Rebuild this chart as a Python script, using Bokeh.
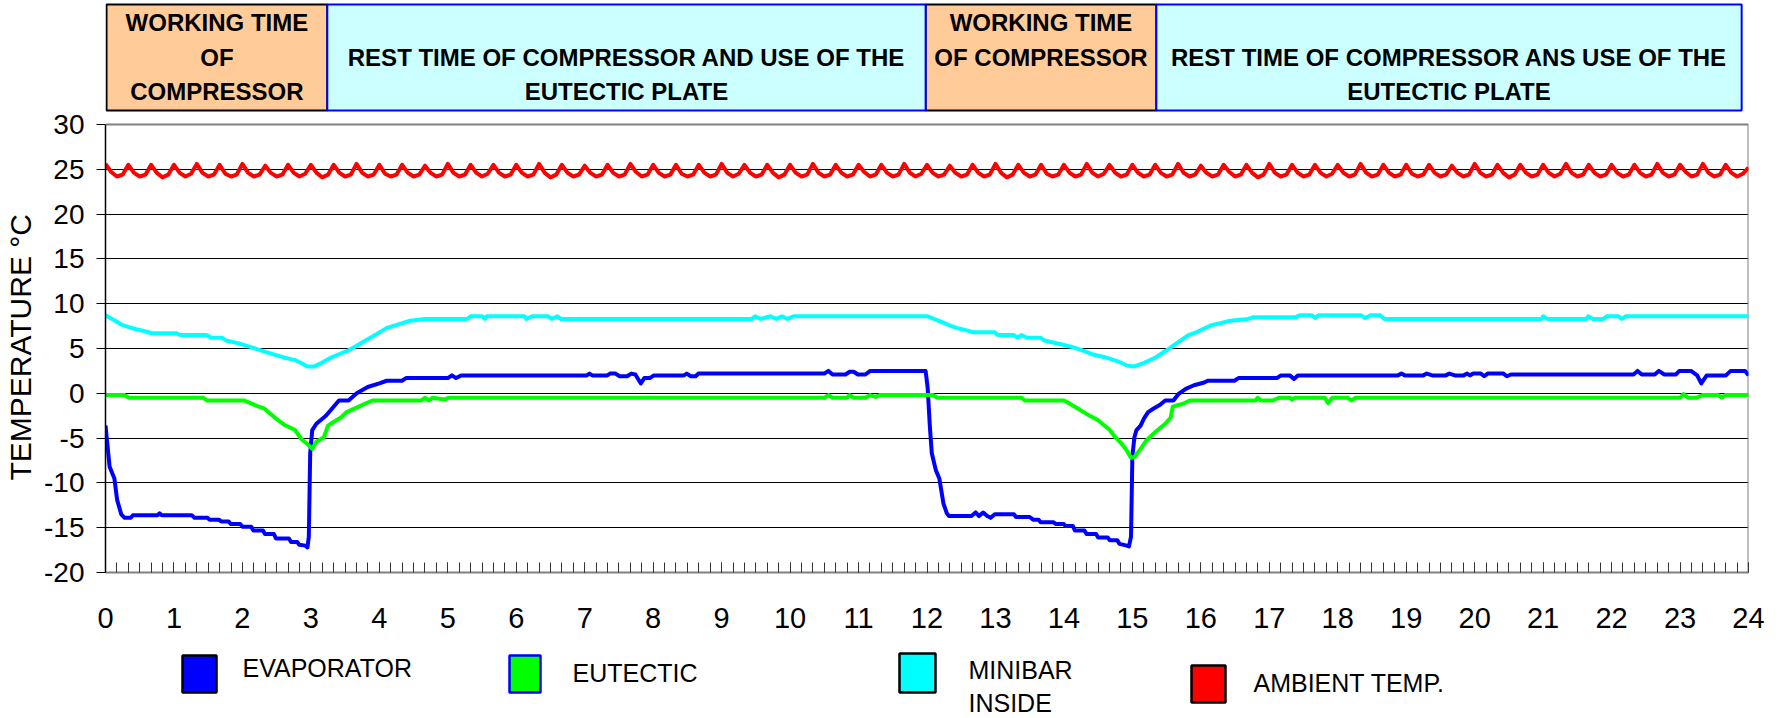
import numpy as np
from bokeh.plotting import figure
from bokeh.models import Range1d, FixedTicker, SingleIntervalTicker, Title
from bokeh.layouts import column
from bokeh.embed import file_html
from bokeh.resources import INLINE
from bokeh.core.properties import value

FONT = "Liberation Sans"

# ---------------- data ----------------
series_names = ["EVAPORATOR", "EUTECTIC", "MINIBAR INSIDE", "AMBIENT TEMP."]
series_colors = ["#0000FF", "#00FF00", "#00FFFF", "#FF0000"]
legend_edge_colors = ["#000000", "#0000FF", "#000000", "#000000"]

y_title = "TEMPERATURE °C"
x_tick_hours = list(range(0, 25))
y_ticks = [-20, -15, -10, -5, 0, 5, 10, 15, 20, 25, 30]

# header phases (hours)
phase_bounds = [0.015, 3.24, 11.98, 15.35, 23.9]
phase_kind = ["work", "rest", "work", "rest"]
phase_lines = [
    ["WORKING TIME", "OF", "COMPRESSOR"],
    ["", "REST TIME OF COMPRESSOR AND USE OF THE", "EUTECTIC PLATE"],
    ["WORKING TIME", "OF COMPRESSOR", ""],
    ["", "REST TIME OF COMPRESSOR ANS USE OF THE", "EUTECTIC PLATE"],
]

evap_t = [0.00, 0.06, 0.13, 0.17, 0.23, 0.28, 0.37, 0.40, 0.76, 0.79, 0.82, 1.26, 1.30, 1.49, 1.52,
          1.66, 1.69, 1.80, 1.83, 1.97, 2.00, 2.13, 2.16, 2.30, 2.33, 2.46, 2.49, 2.68, 2.71, 2.80,
          2.83, 2.92, 2.95, 2.97, 2.99, 3.02, 3.08, 3.22, 3.41, 3.55, 3.67, 3.83, 4.00, 4.11, 4.33,
          4.39, 5.00, 5.06, 5.12, 5.20, 7.03, 7.07, 7.11, 7.33, 7.37, 7.45, 7.51, 7.62, 7.68, 7.74,
          7.82, 7.87, 7.95, 8.01, 8.45, 8.49, 8.55, 8.62, 8.66, 10.50, 10.56, 10.62, 10.81, 10.87,
          10.93, 10.99, 11.10, 11.17, 11.98, 12.01, 12.04, 12.07, 12.13, 12.18, 12.24, 12.29, 12.32,
          12.65, 12.71, 12.76, 12.82, 12.88, 12.93, 12.99, 13.27, 13.30, 13.50, 13.55, 13.63, 13.66,
          13.85, 13.88, 14.00, 14.02, 14.13, 14.16, 14.30, 14.33, 14.47, 14.50, 14.64, 14.67, 14.78,
          14.81, 14.92, 14.95, 14.98, 15.00, 15.03, 15.06, 15.12, 15.17, 15.23, 15.31, 15.40, 15.48,
          15.60, 15.67, 15.78, 15.90, 16.05, 16.10, 16.49, 16.55, 17.11, 17.17, 17.30, 17.36, 17.42,
          18.88, 18.93, 18.98, 19.25, 19.30, 19.38, 19.58, 19.63, 19.71, 19.84, 19.89, 19.93, 19.98,
          20.09, 20.14, 20.19, 20.42, 20.47, 20.53, 22.32, 22.38, 22.44, 22.63, 22.69, 22.77, 22.94,
          22.99, 23.16, 23.25, 23.31, 23.39, 23.67, 23.74, 23.95, 24.00]
evap_v = [-3.6, -8.2, -9.5, -11.9, -13.5, -13.9, -13.9, -13.6, -13.6, -13.4, -13.6, -13.6, -13.9, -13.9, -14.1,
          -14.1, -14.3, -14.3, -14.6, -14.6, -14.9, -14.9, -15.3, -15.3, -15.7, -15.7, -16.2, -16.2, -16.6, -16.6,
          -16.9, -17.0, -17.2, -16.0, -6.7, -4.1, -3.4, -2.5, -0.8, -0.8, 0.0, 0.7, 1.1, 1.4, 1.4,
          1.7, 1.7, 2.0, 1.7, 2.0, 2.0, 2.2, 2.0, 2.0, 2.2, 2.2, 1.9, 1.9, 2.2, 2.1,
          1.1, 1.7, 1.7, 2.0, 2.0, 2.2, 1.9, 1.9, 2.2, 2.2, 2.5, 2.1, 2.1, 2.4,
          2.4, 2.1, 2.1, 2.5, 2.5, 0.6, -3.5, -6.7, -8.6, -9.5, -12.3, -13.4, -13.7,
          -13.7, -13.3, -13.7, -13.3, -13.7, -13.9, -13.5, -13.5, -13.8, -13.8, -14.1, -14.1, -14.4,
          -14.4, -14.6, -14.6, -14.8, -14.8, -15.3, -15.3, -15.7, -15.7, -16.1, -16.1, -16.4, -16.4,
          -16.8, -17.0, -17.1, -16.0, -7.0, -4.9, -4.1, -3.6, -2.8, -2.1, -1.7, -1.3, -0.8,
          -0.8, -0.1, 0.5, 0.9, 1.2, 1.4, 1.4, 1.7, 1.7, 2.0, 2.0, 1.6, 2.0,
          2.0, 2.2, 2.0, 2.0, 2.2, 2.0, 2.0, 2.2, 2.0, 2.0, 2.2, 2.0, 2.2,
          2.2, 1.9, 2.2, 2.2, 1.9, 2.1, 2.1, 2.5, 2.1, 2.1, 2.5, 2.1, 2.1,
          2.5, 2.5, 2.0, 1.1, 2.0, 2.0, 2.5, 2.5, 2.0]

eut_t = [0.00, 0.28, 0.34, 1.43, 1.48, 2.02, 2.10, 2.21, 2.32, 2.41, 2.52, 2.63, 2.77, 2.86, 2.94,
         3.02, 3.08, 3.19, 3.25, 3.33, 3.44, 3.52, 3.67, 3.78, 3.90, 4.61, 4.67, 4.72, 4.78, 4.95,
         5.01, 10.50, 10.56, 10.62, 10.83, 10.87, 10.93, 11.10, 11.17, 11.25, 11.31, 12.09, 12.15,
         13.38, 13.43, 14.00, 14.05, 14.16, 14.33, 14.50, 14.67, 14.75, 14.84, 14.92, 14.98, 15.03,
         15.12, 15.20, 15.34, 15.48, 15.56, 15.59, 15.67, 15.73, 15.84, 16.80, 16.83, 16.88, 17.05,
         17.14, 17.30, 17.33, 17.38, 17.81, 17.86, 17.92, 18.15, 18.20, 18.26, 23.00, 23.05, 23.12,
         23.24, 23.33, 23.56, 23.61, 23.66, 24.00]
eut_v = [-0.2, -0.2, -0.5, -0.5, -0.8, -0.8, -1.05, -1.4, -1.7, -2.3, -3.0, -3.6, -4.1, -5.1, -5.6,
         -6.2, -5.4, -4.9, -3.6, -3.2, -2.7, -2.1, -1.6, -1.2, -0.8, -0.8, -0.5, -0.8, -0.5, -0.7,
         -0.5, -0.5, -0.2, -0.5, -0.5, -0.2, -0.5, -0.5, -0.2, -0.4, -0.2, -0.2, -0.5,
         -0.5, -0.8, -0.8, -1.0, -1.5, -2.3, -3.0, -4.1, -4.9, -5.6, -6.4, -7.2, -7.1,
         -6.2, -5.3, -4.3, -3.4, -2.7, -1.5, -1.3, -1.2, -0.8, -0.8, -0.5, -0.8, -0.8,
         -0.5, -0.5, -0.7, -0.5, -0.5, -1.1, -0.5, -0.5, -0.8, -0.5, -0.5, -0.1, -0.5,
         -0.5, -0.2, -0.2, -0.5, -0.2, -0.2]

mini_t = [0.00, 0.14, 0.25, 0.42, 0.59, 0.67, 1.04, 1.09, 1.48, 1.54, 1.70, 1.76, 1.93, 2.10, 2.27,
          2.43, 2.60, 2.77, 2.88, 2.94, 3.05, 3.16, 3.27, 3.39, 3.55, 3.67, 3.78, 3.89, 4.00, 4.11,
          4.28, 4.45, 4.67, 5.28, 5.34, 5.50, 5.54, 5.57, 6.12, 6.15, 6.23, 6.46, 6.52, 6.60, 6.65,
          9.44, 9.49, 9.57, 9.71, 9.80, 9.88, 9.96, 10.05, 12.01, 12.10, 12.20, 12.32, 12.43, 12.54,
          12.68, 12.99, 13.04, 13.27, 13.32, 13.38, 13.46, 13.66, 13.71, 13.94, 14.10, 14.27, 14.44,
          14.61, 14.78, 14.92, 15.03, 15.17, 15.34, 15.50, 15.67, 15.82, 15.93, 16.04, 16.15, 16.27,
          16.43, 16.69, 16.77, 17.39, 17.44, 17.62, 17.67, 17.72, 18.34, 18.40, 18.48, 18.62, 18.68,
          20.98, 21.00, 21.06, 21.63, 21.66, 21.72, 21.88, 21.93, 22.10, 22.15, 22.21, 24.00]
mini_v = [8.7, 8.1, 7.6, 7.2, 6.9, 6.7, 6.7, 6.5, 6.5, 6.2, 6.2, 5.9, 5.6, 5.2, 4.8,
          4.4, 4.0, 3.7, 3.3, 3.0, 3.0, 3.4, 3.9, 4.3, 4.8, 5.3, 5.8, 6.3, 6.8, 7.3,
          7.7, 8.1, 8.3, 8.3, 8.6, 8.6, 8.3, 8.6, 8.6, 8.3, 8.6, 8.6, 8.3, 8.6, 8.3,
          8.3, 8.6, 8.3, 8.6, 8.3, 8.6, 8.3, 8.6, 8.6, 8.3, 8.0, 7.6, 7.3, 7.1,
          6.8, 6.8, 6.5, 6.5, 6.2, 6.5, 6.2, 6.2, 5.9, 5.5, 5.2, 4.8, 4.3,
          4.0, 3.6, 3.1, 3.0, 3.4, 4.0, 4.8, 5.7, 6.5, 6.8, 7.2, 7.6, 7.8,
          8.1, 8.3, 8.5, 8.5, 8.7, 8.7, 8.4, 8.7, 8.7, 8.4, 8.7, 8.7, 8.3,
          8.3, 8.6, 8.3, 8.3, 8.6, 8.3, 8.3, 8.6, 8.6, 8.3, 8.6, 8.6]

# ambient temperature, one reading every 5 minutes (one row per hour)
amb_step_minutes = 5
amb_v = [
    25.6, 24.7, 24.2, 24.4, 25.5, 24.6, 24.2, 24.4, 25.5, 24.6, 24.1, 24.4,
    25.5, 24.6, 24.2, 24.5, 25.6, 24.6, 24.2, 24.4, 25.5, 24.5, 24.2, 24.4,
    25.6, 24.6, 24.2, 24.4, 25.4, 24.6, 24.2, 24.4, 25.5, 24.6, 24.2, 24.5,
    25.5, 24.6, 24.1, 24.4, 25.5, 24.6, 24.2, 24.4, 25.6, 24.6, 24.2, 24.4,
    25.5, 24.5, 24.2, 24.4, 25.5, 24.6, 24.2, 24.4, 25.4, 24.6, 24.2, 24.4,
    25.6, 24.6, 24.2, 24.4, 25.5, 24.6, 24.2, 24.5, 25.5, 24.6, 24.2, 24.4,
    25.5, 24.6, 24.2, 24.4, 25.6, 24.6, 24.1, 24.4, 25.5, 24.6, 24.2, 24.4,
    25.4, 24.6, 24.2, 24.4, 25.5, 24.6, 24.2, 24.4, 25.6, 24.7, 24.2, 24.4,
    25.5, 24.6, 24.2, 24.4, 25.5, 24.5, 24.2, 24.4, 25.5, 24.6, 24.2, 24.4,
    25.6, 24.6, 24.2, 24.5, 25.5, 24.6, 24.2, 24.4, 25.5, 24.6, 24.1, 24.4,
    25.5, 24.6, 24.2, 24.4, 25.6, 24.6, 24.2, 24.4, 25.5, 24.6, 24.2, 24.4,
    25.5, 24.7, 24.2, 24.4, 25.5, 24.6, 24.2, 24.4, 25.6, 24.6, 24.2, 24.5,
    25.5, 24.6, 24.2, 24.4, 25.4, 24.6, 24.2, 24.4, 25.5, 24.6, 24.2, 24.4,
    25.6, 24.6, 24.1, 24.4, 25.5, 24.6, 24.2, 24.4, 25.5, 24.5, 24.2, 24.4,
    25.5, 24.6, 24.2, 24.4, 25.6, 24.6, 24.2, 24.5, 25.5, 24.6, 24.2, 24.4,
    25.5, 24.6, 24.2, 24.4, 25.5, 24.6, 24.2, 24.4, 25.6, 24.6, 24.2, 24.4,
    25.4, 24.6, 24.2, 24.4, 25.5, 24.7, 24.2, 24.4, 25.5, 24.6, 24.1, 24.4,
    25.6, 24.6, 24.2, 24.4, 25.5, 24.6, 24.2, 24.4, 25.5, 24.6, 24.2, 24.5,
    25.5, 24.6, 24.2, 24.4, 25.6, 24.6, 24.2, 24.4, 25.5, 24.6, 24.2, 24.4,
    25.5, 24.5, 24.2, 24.4, 25.5, 24.6, 24.2, 24.4, 25.4, 24.6, 24.2, 24.4,
    25.6, 24.6, 24.2, 24.4, 25.5, 24.6, 24.1, 24.4, 25.5, 24.6, 24.2, 24.4,
    25.5, 24.6, 24.2, 24.5, 25.6, 24.6, 24.2, 24.4, 25.5, 24.6, 24.2, 24.4,
    25.5, 24.6, 24.2, 24.4, 25.5, 24.6, 24.2, 24.4, 25.6, 24.6, 24.2, 24.4,
    25.5, 24.7, 24.2, 24.4, 25.6, 24.6, 24.2, 24.4, 25.5, 24.6, 24.2, 24.5,
    25.2,
]
amb_t = list(np.arange(len(amb_v)) * amb_step_minutes / 60.0)

series = [(evap_t, evap_v), (eut_t, eut_v), (mini_t, mini_v), (amb_t, amb_v)]

# ---------------- layout ----------------
W = 1782
H_MAIN = 648
H_LEG = 70
BORDER_L, BORDER_R, BORDER_B = 105, 34, 76
PX_PER_UNIT = 8.96                       # vertical pixels per degree
frame_h = H_MAIN - BORDER_B              # frame spans page y 0 .. 572
y_low = y_ticks[0]
y_high = y_low + frame_h / PX_PER_UNIT


def page_y(py):
    """page pixel row -> value on the temperature scale"""
    return y_low + (frame_h - py) / PX_PER_UNIT


p = figure(width=W, height=H_MAIN, x_range=Range1d(0, 24), y_range=Range1d(y_low, y_high),
           min_border_left=BORDER_L, min_border_right=BORDER_R, min_border_top=0,
           min_border_bottom=BORDER_B, output_backend="svg", toolbar_location=None)
p.outline_line_color = None
p.xgrid.visible = False
p.ygrid.ticker = FixedTicker(ticks=y_ticks[1:-1])
p.ygrid.grid_line_color = "#000000"
p.ygrid.grid_line_width = 1

p.yaxis.ticker = FixedTicker(ticks=y_ticks)
p.yaxis.bounds = (y_ticks[0], y_ticks[-1])
p.yaxis.axis_line_color = "#000000"
p.yaxis.axis_line_width = 1.5
p.yaxis.major_tick_in = 0
p.yaxis.major_tick_out = 9
p.yaxis.major_tick_line_color = "#000000"
p.yaxis.minor_tick_line_color = None
p.yaxis.major_label_standoff = 12
p.yaxis.major_label_text_font = FONT
p.yaxis.major_label_text_font_size = "28px"
p.yaxis.major_label_text_color = "#000000"
p.yaxis.major_label_overrides = {t: str(t) for t in y_ticks}

p.xaxis.ticker = SingleIntervalTicker(interval=1, num_minor_ticks=6)
p.xaxis.axis_line_color = "#808080"
p.xaxis.axis_line_width = 2
p.xaxis.major_tick_in = 10
p.xaxis.major_tick_out = 0
p.xaxis.minor_tick_in = 10
p.xaxis.minor_tick_out = 0
p.xaxis.major_tick_line_color = "#333333"
p.xaxis.minor_tick_line_color = "#333333"
p.xaxis.major_label_standoff = 35
p.xaxis.major_label_text_font = FONT
p.xaxis.major_label_text_font_size = "29px"
p.xaxis.major_label_text_color = "#000000"
p.xaxis.major_label_overrides = {h: str(h) for h in x_tick_hours}

# y-axis title, rotated, in the outer left margin; starts ~92 px above the x axis
p.add_layout(Title(text=y_title, align="left", offset=92, vertical_align="top", standoff=6,
                   text_font=FONT, text_font_size="30px", text_font_style="normal",
                   text_color="#000000"), "left")

# gray plot-area border (top and right)
p.line(x=[0, 24, 24], y=[y_ticks[-1], y_ticks[-1], y_ticks[0]], line_color="#808080", line_width=2)

# header boxes above the plot area
fills = {"work": "#FFCC99", "rest": "#CCFFFF"}
edges = {"work": "#000000", "rest": "#0000FF"}
for kind in ["work", "rest"]:
    idx = [i for i, k in enumerate(phase_kind) if k == kind]
    p.quad(left=[phase_bounds[i] for i in idx], right=[phase_bounds[i + 1] for i in idx],
           top=[page_y(4)] * len(idx), bottom=[page_y(110)] * len(idx),
           fill_color=fills[kind], line_color=edges[kind], line_width=2)
line_rows = [22, 57, 91]
tx, ty, tt = [], [], []
for i, lines in enumerate(phase_lines):
    cx = (phase_bounds[i] + phase_bounds[i + 1]) / 2
    for j, s in enumerate(lines):
        if s:
            tx.append(cx); ty.append(page_y(line_rows[j])); tt.append(s)
p.text(x=tx, y=ty, text=tt, text_font=value(FONT), text_font_size="24px",
       text_font_style="bold", text_align="center", text_baseline="middle", text_color="#000000")

for (t, v), c in zip(series, series_colors):
    p.line(x=t, y=v, line_color=c, line_width=4, line_join="round")

# legend strip (coordinates in page pixels; frame aligned with the chart's frame)
lg = figure(width=W, height=H_LEG, x_range=Range1d(BORDER_L, W - BORDER_R),
            y_range=Range1d(H_MAIN + H_LEG, H_MAIN),
            min_border_left=BORDER_L, min_border_right=BORDER_R, min_border_top=0, min_border_bottom=0,
            x_axis_location=None, y_axis_location=None,
            output_backend="svg", toolbar_location=None)
lg.grid.visible = False
lg.outline_line_color = None
sq_left = [182, 509, 899, 1191]
sq_right = [216, 540, 935, 1225]
sq_top = [655, 655, 653, 665]
sq_bottom = [692, 692, 692, 702]
lg.quad(left=sq_left, right=sq_right, top=sq_top, bottom=sq_bottom,
        fill_color=series_colors, line_color=legend_edge_colors, line_width=2.5)
lab_x, lab_y, lab_t = [], [], []
text_left = [242, 572, 968, 1253]
text_mid = [667.5, 672.5, 669, 682.5]
for i, name in enumerate(series_names):
    parts = name.split(" ") if name == "MINIBAR INSIDE" else [name]
    for j, part in enumerate(parts):
        lab_x.append(text_left[i]); lab_y.append(text_mid[i] + 33 * j); lab_t.append(part)
lg.text(x=lab_x, y=lab_y, text=lab_t, text_font=value(FONT), text_font_size="25px",
        text_align="left", text_baseline="middle", text_color="#000000")

layout = column(p, lg, spacing=0)
open("out.html", "w").write(file_html(layout, INLINE))
